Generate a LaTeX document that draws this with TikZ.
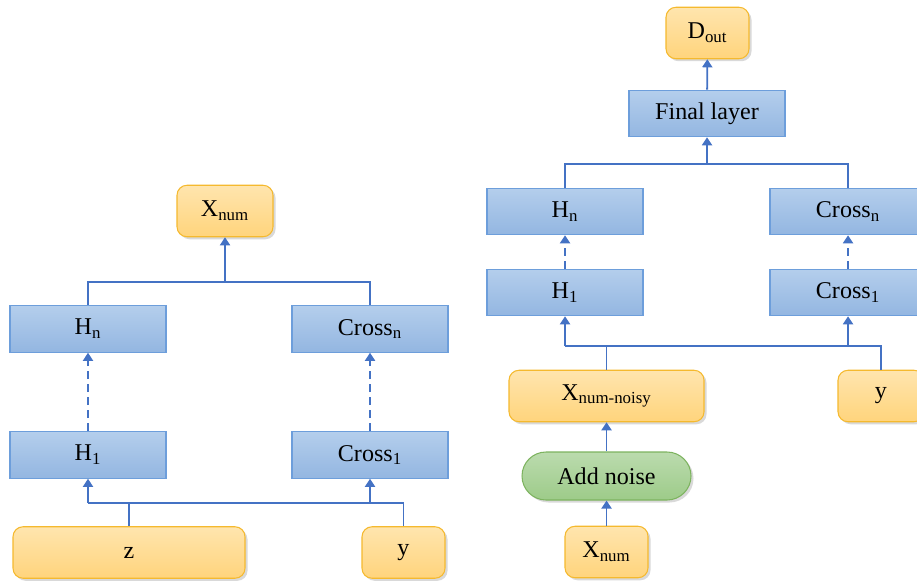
\documentclass[tikz,border=0pt]{standalone}
\usepackage{fontspec}
\setmainfont{Liberation Serif}
\usepackage{xcolor}
\usepackage{tikz}
\usetikzlibrary{arrows.meta, positioning, calc, shadows}

\definecolor{linkblue}{HTML}{4472C4}
\definecolor{layerborder}{HTML}{6D9EDB}
\definecolor{layertop}{HTML}{B4CEEC}
\definecolor{layerbot}{HTML}{93B6E1}
\definecolor{datatop}{HTML}{FFE5AE}
\definecolor{databot}{HTML}{FFD47C}
\definecolor{databorder}{HTML}{F5B92E}
\definecolor{noisetop}{HTML}{BBDBAE}
\definecolor{noisebot}{HTML}{9DCB89}
\definecolor{noiseborder}{HTML}{7DB35F}

\begin{document}
\begin{tikzpicture}[font=\fontsize{13.7}{16}\selectfont,
		layer/.style={draw=layerborder, line width=0.6pt, top color=layertop, bottom color=layerbot, minimum width=3.12cm, minimum height=0.93cm, inner sep=0pt},
		data/.style={draw=databorder, line width=0.6pt, top color=datatop, bottom color=databot, rounded corners=0.2cm, minimum height=1.03cm, inner sep=0pt,
			drop shadow={shadow xshift=0.05cm, shadow yshift=-0.05cm, opacity=0.25, fill=black!60}},
		noisebox/.style={draw=noiseborder, line width=0.6pt, top color=noisetop, bottom color=noisebot, rounded corners=0.48cm, minimum width=3.38cm, minimum height=0.96cm, inner sep=0pt,
			drop shadow={shadow xshift=0.05cm, shadow yshift=-0.05cm, opacity=0.25, fill=black!60}},
		link/.style={draw=linkblue, line width=1.05pt},
		arr/.style={link, -{Triangle[width=0.2cm, length=0.16cm]}},
		darr/.style={arr, dash pattern=on 0.16cm off 0.1cm}]
	\useasboundingbox (0,0) rectangle (18.34,11.68);
	
	% left: decoder
	\node[data, minimum width=1.92cm] (xnumL) at (4.5,7.46) {X\textsubscript{num}};
	\node[layer] (hnL) at (1.76,5.1) {H\textsubscript{n}};
	\node[layer] (crossnL) at (7.4,5.1) {Cross\textsubscript{n}};
	\node[layer] (h1L) at (1.76,2.58) {H\textsubscript{1}};
	\node[layer] (cross1L) at (7.4,2.58) {Cross\textsubscript{1}};
	\node[data, minimum width=4.64cm] (zL) at (2.58,0.63) {z};
	\node[data, minimum width=1.66cm] (yL) at (8.07,0.63) {y};
	\coordinate (topL) at (4.5,6.04);
	\coordinate (botL) at (0,1.62);
	\draw[link] (hnL.north) |- (topL) -| (crossnL.north);
	\draw[arr] (topL) -- (xnumL.south);
	\draw[darr] (h1L) -- (hnL);
	\draw[darr] (cross1L) -- (crossnL);
	\draw[link] (h1L.south |- botL) -| (yL.north);
	\draw[link] (zL.north) -- (zL.north |- botL);
	\draw[arr] (h1L.south |- botL) -- (h1L.south);
	\draw[arr] (cross1L.south |- botL) -- (cross1L.south);
	
	% right: denoiser
	\node[data, minimum width=1.66cm] (dout) at (14.15,11.02) {D\textsubscript{out}};
	\node[layer] (final) at (14.14,9.41) {Final layer};
	\node[layer] (hnR) at (11.3,7.45) {H\textsubscript{n}};
	\node[layer] (crossnR) at (16.96,7.45) {Cross\textsubscript{n}};
	\node[layer] (h1R) at (11.3,5.83) {H\textsubscript{1}};
	\node[layer] (cross1R) at (16.96,5.83) {Cross\textsubscript{1}};
	\node[data, minimum width=3.9cm] (noisy) at (12.13,3.76) {X\textsubscript{num-noisy}};
	\node[data, minimum width=1.72cm] (yR) at (17.62,3.76) {y};
	\node[noisebox] (addnoise) at (12.13,2.16) {Add noise};
	\node[data, minimum width=1.66cm] (xnumR) at (12.13,0.64) {X\textsubscript{num}};
	\coordinate (topR) at (14.14,8.4);
	\coordinate (botR) at (0,4.76);
	\draw[arr] (final) -- (dout);
	\draw[link] (hnR.north) |- (topR) -| (crossnR.north);
	\draw[arr] (topR) -- (final.south);
	\draw[darr] (h1R) -- (hnR);
	\draw[darr] (cross1R) -- (crossnR);
	\draw[link] (h1R.south |- botR) -| (yR.north);
	\draw[link] (noisy.north) -- (noisy.north |- botR);
	\draw[arr] (h1R.south |- botR) -- (h1R.south);
	\draw[arr] (cross1R.south |- botR) -- (cross1R.south);
	\draw[arr] (addnoise) -- (noisy);
	\draw[arr] (xnumR) -- (addnoise);
\end{tikzpicture}
\end{document}
